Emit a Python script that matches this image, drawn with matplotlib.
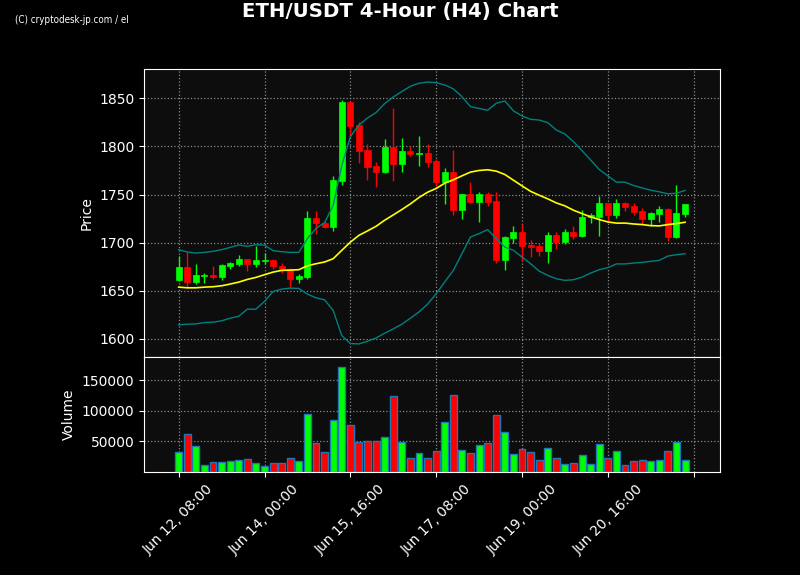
import numpy as np
import pandas as pd
import matplotlib
matplotlib.use("Agg")
import matplotlib.pyplot as plt

# ---------------- data ----------------
start_time = "2023-06-12 08:00"
n_candles = 60

opens = [1660.8, 1674.3, 1659.0, 1664.9, 1666.0, 1663.9, 1675.3, 1677.4, 1682.6, 1677.4,
         1680.6, 1681.6, 1676.0, 1672.6, 1661.8, 1663.9, 1725.3, 1720.8, 1716.3, 1764.2,
         1845.8, 1822.2, 1796.2, 1779.5, 1773.6, 1799.3, 1781.9, 1795.1, 1792.4, 1793.4,
         1784.7, 1762.8, 1773.3, 1734.0, 1750.3, 1742.5, 1750.3, 1743.1, 1681.9, 1704.9,
         1710.8, 1697.6, 1696.2, 1691.3, 1707.6, 1700.3, 1710.8, 1707.3, 1726.4, 1726.4,
         1741.0, 1728.5, 1741.0, 1737.8, 1732.6, 1724.3, 1729.5, 1734.7, 1705.9, 1729.9]
highs = [1686.1, 1690.3, 1678.1, 1668.1, 1676.0, 1677.8, 1679.5, 1686.8, 1682.8, 1696.9,
         1689.2, 1682.6, 1678.8, 1673.6, 1667.7, 1732.6, 1732.6, 1722.6, 1768.8, 1848.3,
         1846.5, 1825.7, 1802.1, 1783.3, 1807.3, 1839.6, 1808.3, 1800.0, 1810.8, 1802.1,
         1786.8, 1777.1, 1795.8, 1750.3, 1762.5, 1752.8, 1753.1, 1753.1, 1707.3, 1717.0,
         1719.1, 1703.1, 1700.0, 1711.5, 1711.1, 1714.6, 1717.7, 1733.7, 1731.2, 1748.6,
         1741.0, 1745.8, 1742.0, 1741.7, 1736.1, 1732.3, 1738.5, 1736.1, 1759.4, 1739.9]
lows = [1659.7, 1653.8, 1657.3, 1658.0, 1662.5, 1661.1, 1672.6, 1676.0, 1670.5, 1674.7,
        1677.8, 1672.9, 1668.4, 1653.8, 1658.3, 1662.5, 1709.4, 1715.5, 1711.8, 1760.4,
        1810.8, 1782.3, 1764.9, 1757.3, 1772.2, 1763.9, 1772.9, 1789.6, 1779.2, 1778.1,
        1759.0, 1740.6, 1729.2, 1725.0, 1741.3, 1721.9, 1738.2, 1678.5, 1671.5, 1699.3,
        1681.3, 1685.4, 1686.5, 1679.2, 1693.8, 1699.0, 1704.2, 1705.9, 1720.5, 1707.3,
        1722.9, 1726.0, 1733.3, 1728.8, 1719.1, 1717.0, 1721.9, 1702.1, 1705.0, 1726.7]
closes = [1674.3, 1659.0, 1666.0, 1666.3, 1663.9, 1676.4, 1678.8, 1682.6, 1677.4, 1681.6,
          1681.9, 1675.7, 1672.2, 1661.8, 1664.9, 1725.3, 1720.1, 1716.3, 1764.9, 1845.8,
          1821.5, 1795.5, 1778.8, 1773.6, 1799.3, 1781.9, 1795.1, 1792.4, 1793.4, 1784.0,
          1763.2, 1773.3, 1734.0, 1750.3, 1742.5, 1750.3, 1741.8, 1681.9, 1705.6, 1710.8,
          1696.5, 1695.5, 1691.3, 1707.6, 1700.3, 1710.8, 1707.3, 1726.4, 1728.7, 1741.0,
          1728.5, 1741.0, 1737.2, 1731.9, 1724.3, 1730.6, 1734.7, 1705.9, 1730.6, 1739.9]

sma20 = [1653.8, 1653.1, 1653.1, 1653.8, 1654.2, 1655.2, 1657.0, 1659.0, 1661.8, 1663.9,
         1666.7, 1669.4, 1671.2, 1671.5, 1671.9, 1676.0, 1678.1, 1679.9, 1683.3, 1692.0,
         1700.5, 1707.6, 1712.2, 1717.0, 1723.3, 1728.8, 1734.4, 1740.3, 1746.9, 1752.4,
         1756.3, 1761.8, 1765.3, 1769.4, 1773.3, 1775.0, 1775.7, 1774.3, 1770.8, 1764.9,
         1759.0, 1753.3, 1749.3, 1745.5, 1741.3, 1738.2, 1733.7, 1730.2, 1726.7, 1724.0,
         1721.5, 1720.3, 1720.3, 1719.4, 1718.8, 1717.7, 1717.4, 1718.8, 1719.8, 1721.2]
upper_band = [1692.7, 1690.3, 1689.2, 1689.9, 1691.0, 1692.7, 1695.1, 1697.6, 1696.2, 1697.9,
              1697.4, 1691.7, 1690.6, 1689.9, 1689.9, 1704.2, 1714.9, 1720.8, 1738.5, 1780.0,
              1810.1, 1822.2, 1829.5, 1835.2, 1844.5, 1851.3, 1857.0, 1862.5, 1865.6, 1866.8,
              1866.2, 1863.8, 1859.8, 1851.7, 1841.3, 1839.4, 1837.6, 1844.8, 1847.2, 1836.9,
              1831.7, 1828.1, 1827.4, 1824.7, 1817.0, 1812.8, 1804.9, 1795.5, 1785.8, 1776.0,
              1769.4, 1762.9, 1762.8, 1759.4, 1756.9, 1754.5, 1752.8, 1750.7, 1751.4, 1754.2]
lower_band = [1614.6, 1615.3, 1615.6, 1617.0, 1617.4, 1618.8, 1621.5, 1623.6, 1630.9, 1630.9,
              1639.0, 1649.3, 1651.7, 1652.8, 1652.4, 1646.5, 1642.7, 1640.6, 1629.5, 1603.5,
              1595.2, 1594.8, 1597.6, 1601.0, 1605.9, 1610.4, 1615.3, 1621.5, 1628.1, 1636.1,
              1646.9, 1659.2, 1671.2, 1688.5, 1705.9, 1709.4, 1713.5, 1704.2, 1695.5, 1692.0,
              1685.1, 1678.1, 1670.5, 1666.0, 1662.5, 1660.8, 1661.5, 1664.2, 1668.4, 1671.9,
              1674.0, 1677.9, 1677.9, 1678.8, 1679.5, 1680.6, 1681.6, 1686.1, 1687.5, 1688.5]

volumes = [32300, 62900, 41900, 11300, 16100, 16100, 17700, 19400, 21000, 14500,
           9700, 14500, 14500, 22600, 17700, 95200, 46800, 32300, 85500, 171000,
           77400, 48400, 50000, 50000, 56500, 124200, 48400, 22600, 30600, 22600,
           33900, 82300, 125800, 35500, 31200, 43500, 46800, 93500, 66100, 29000,
           37100, 32300, 19400, 38700, 22600, 12900, 14500, 27400, 12900, 45200,
           22600, 33900, 11300, 17700, 19400, 17700, 19400, 33900, 48400, 19400]

title_text = "ETH/USDT 4-Hour (H4) Chart"
watermark_text = "(C) cryptodesk-jp.com / el"

# ---------------- plotting ----------------
o = np.array(opens); h = np.array(highs); l = np.array(lows); c = np.array(closes)
x = np.arange(len(o))
dates = pd.date_range(start_time, periods=n_candles, freq="4h")
up_col, dn_col = "#00ff00", "#ff0000"
colors = [up_col if cc >= oo else dn_col for oo, cc in zip(o, c)]

fig = plt.figure(figsize=(8, 5.75), dpi=100, facecolor="black")
ax = fig.add_axes([0.18, 0.3791, 0.72, 0.5009])
axv = fig.add_axes([0.18, 0.1791, 0.72, 0.2], sharex=ax)

for a in (ax, axv):
    a.set_facecolor("#0d0d0d")
    a.set_axisbelow(True)
    a.grid(True, color="#8a8a8a", linestyle=":", linewidth=0.9)
    for s in a.spines.values():
        s.set_color("white")
    a.tick_params(colors="white", labelsize=10)

# candles
ax.vlines(x, l, h, colors=colors, linewidth=1, zorder=2)
ax.bar(x, np.maximum(np.abs(c - o), 0.5), bottom=np.minimum(o, c), width=0.7,
       color=colors, edgecolor=colors, linewidth=0.5, zorder=3)
# bands
ax.plot(x, upper_band, color="#008080", linewidth=1, zorder=4)
ax.plot(x, lower_band, color="#008080", linewidth=1, zorder=4)
ax.plot(x, sma20, color="#ffff00", linewidth=1.2, zorder=4)

lo, hi = min(lower_band), max(upper_band)
pad = (hi - lo) * 0.05
ax.set_ylim(lo - pad, hi + pad)
ax.set_ylabel("Price", color="white", fontsize=10)
plt.setp(ax.get_xticklabels(), visible=False)

# volume
axv.bar(x, volumes, width=0.8, color=colors, edgecolor="#1f77b4", linewidth=1)
axv.set_ylim(0, max(volumes) * 1.1)
axv.set_yticks([50000, 100000, 150000])
axv.set_ylabel("Volume", color="white", fontsize=10)

ticks = list(range(0, n_candles + 1, 10))
labels = [dates[t].strftime("%b %d, %H:%M") if t < n_candles else "" for t in ticks]
axv.set_xticks(ticks)
axv.set_xticklabels(labels, rotation=45)
ax.set_xlim(-4.04, 63.07)

fig.suptitle(title_text, color="white", fontsize=14.2, fontweight="bold", y=0.997)
fig.text(0.019, 0.965, watermark_text, color="white", fontsize=7,
         family=["Liberation Sans Narrow", "DejaVu Sans"], stretch="condensed",
         va="center", ha="left")

fig.savefig("out.png", dpi=100, facecolor="black")
